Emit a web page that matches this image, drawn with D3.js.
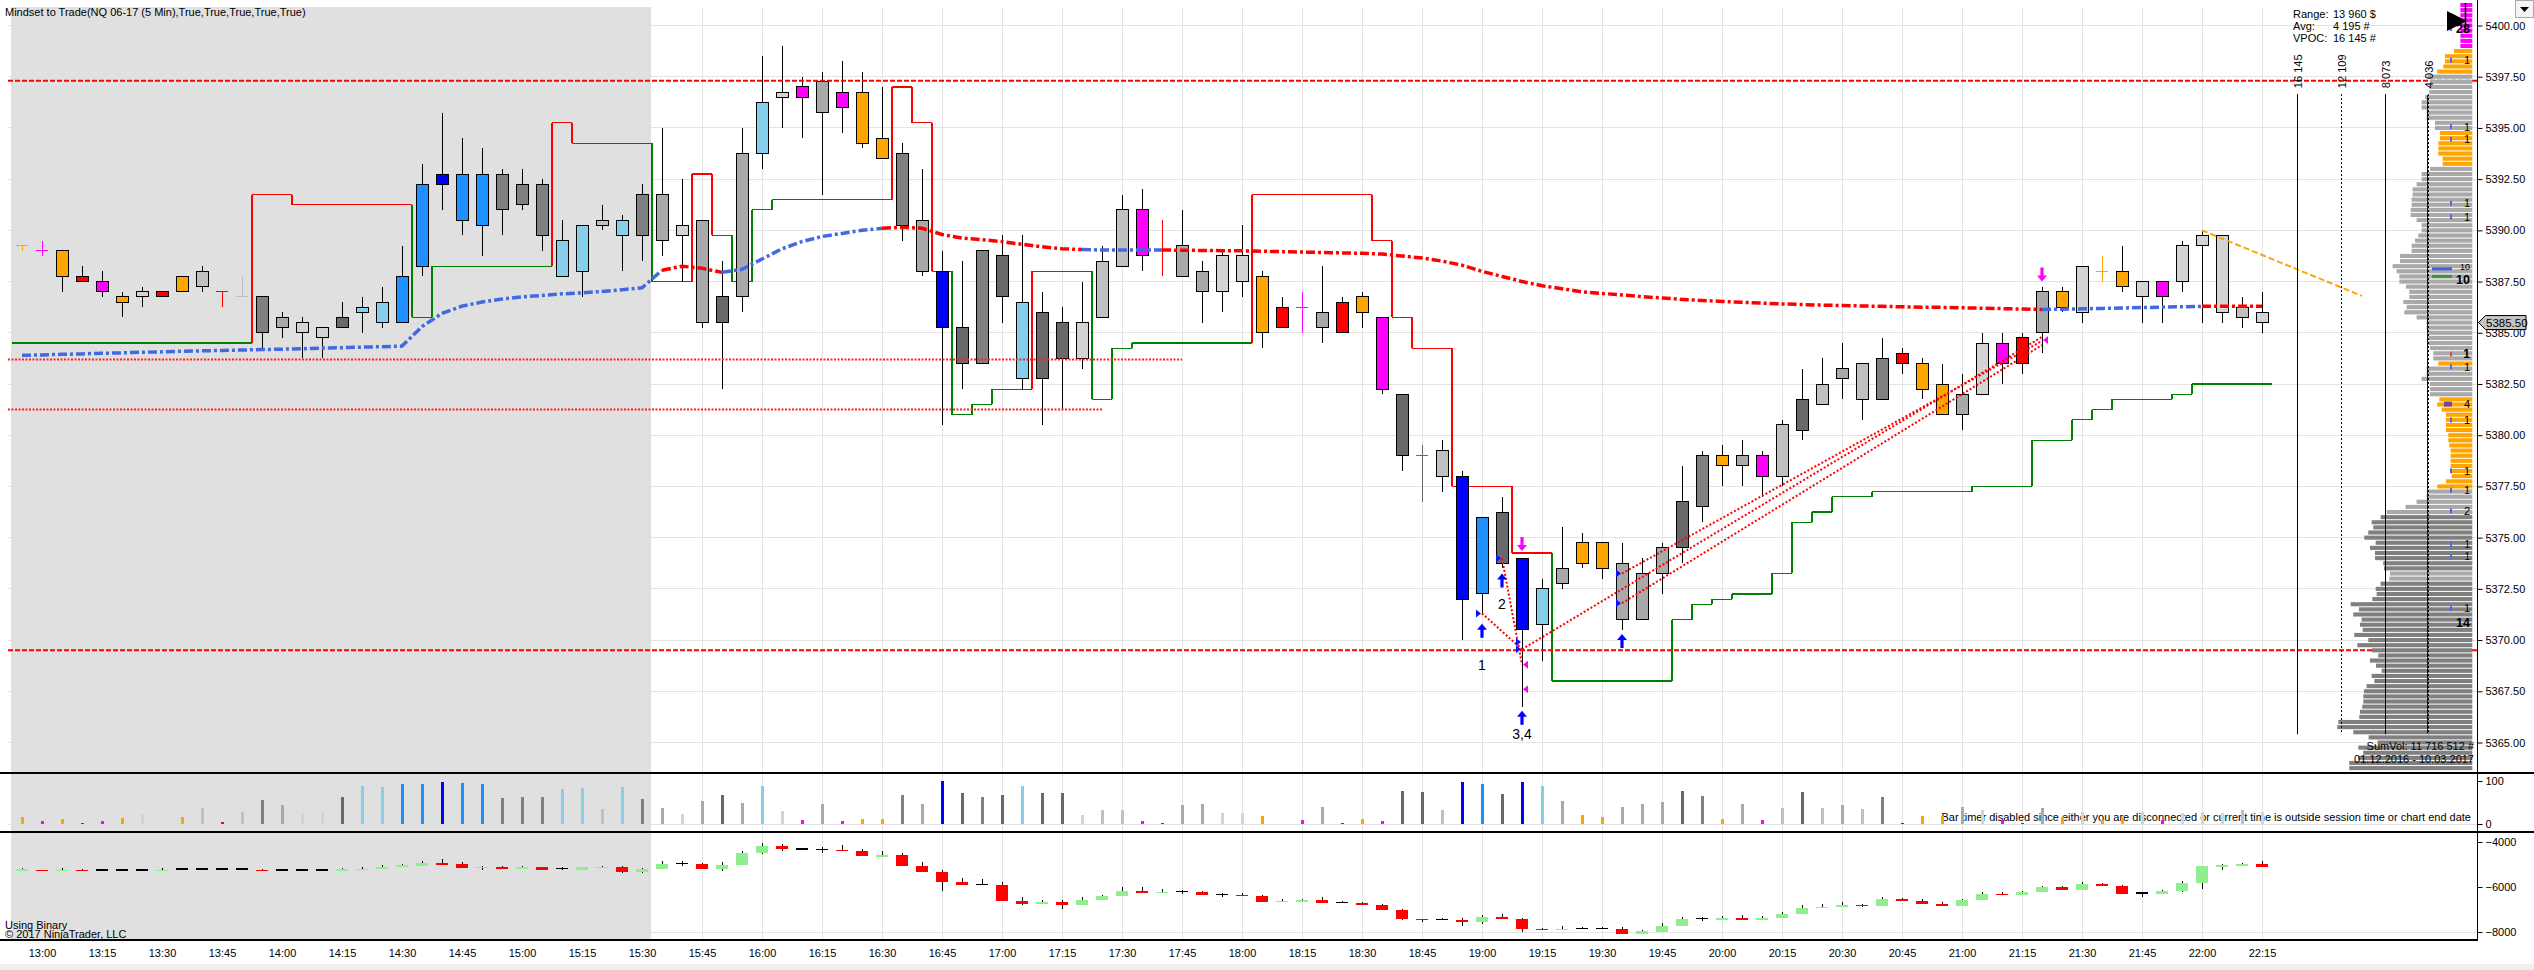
<!DOCTYPE html>
<html>
<head>
<meta charset="utf-8">
<title>Mindset to Trade NQ 06-17 5 Min</title>
<script src="https://cdn.jsdelivr.net/npm/d3@7"></script>
<style>
  html, body { margin: 0; padding: 0; background: #fff; }
  svg { display: block; }
</style>
</head>
<body>
<svg id="chart"></svg>
<script>
// ---------- data ----------
var timeLabels = ["13:00","13:15","13:30","13:45","14:00","14:15","14:30","14:45","15:00","15:15",
  "15:30","15:45","16:00","16:15","16:30","16:45","17:00","17:15","17:30","17:45","18:00","18:15",
  "18:30","18:45","19:00","19:15","19:30","19:45","20:00","20:15","20:30","20:45","21:00","21:15",
  "21:30","21:45","22:00","22:15"];
var priceTicks = [5365, 5367.5, 5370, 5372.5, 5375, 5377.5, 5380, 5382.5, 5385, 5387.5, 5390, 5392.5, 5395, 5397.5, 5400];

// 5 min bars, 12:55 .. 22:15
var open = [5389.25,5389.0,5389.0,5387.75,5387.5,5386.75,5386.75,5387.0,5387.0,5388.0,
  5387.0,5386.75,5386.75,5385.25,5385.5,5385.25,5385.25,5386.0,5385.5,5385.5,
  5388.25,5392.75,5392.75,5390.25,5392.75,5391.25,5392.25,5389.5,5388.0,5390.25,
  5390.5,5389.75,5389.5,5390.25,5390.5,5385.5,5386.75,5393.75,5396.75,5396.5,
  5397.25,5396.0,5396.75,5394.5,5393.75,5390.5,5388.0,5385.25,5383.5,5388.75,
  5386.5,5382.75,5385.5,5383.75,5385.75,5388.25,5391.0,5389.0,5387.75,5388.0,
  5387.0,5388.75,5387.75,5385.25,5386.25,5386.0,5386.5,5386.0,5385.75,5382.0,
  5379.0,5378.0,5378.0,5372.25,5376.25,5374.0,5370.75,5372.75,5373.75,5374.75,
  5373.75,5371.0,5373.25,5374.5,5376.5,5379.0,5378.5,5379.0,5378.0,5380.25,
  5381.5,5382.75,5383.5,5381.75,5384.0,5383.5,5382.5,5381.0,5382.0,5384.5,
  5383.5,5385.0,5387.0,5386.0,5388.0,5388.0,5387.5,5386.75,5387.5,5389.25,
  5389.75,5386.25,5386.0];
var high = [5389.25,5389.5,5389.0,5388.25,5388.0,5387.0,5387.25,5387.0,5387.75,5388.25,
  5387.0,5387.75,5386.75,5386.0,5385.75,5385.25,5386.5,5386.75,5387.25,5389.25,
  5393.25,5395.75,5394.5,5394.0,5393.0,5393.0,5392.5,5390.5,5390.25,5391.25,
  5390.75,5392.25,5395.0,5392.5,5390.5,5388.5,5395.0,5398.5,5399.0,5397.5,
  5397.75,5398.25,5397.75,5397.0,5394.25,5393.0,5389.0,5388.5,5389.0,5389.75,
  5389.75,5387.0,5386.25,5387.5,5389.25,5391.75,5392.0,5390.5,5391.0,5388.5,
  5389.0,5390.25,5388.0,5386.75,5387.0,5388.25,5386.75,5387.0,5385.75,5382.0,
  5379.5,5379.75,5378.25,5376.0,5377.0,5374.0,5373.0,5375.5,5375.25,5374.75,
  5374.75,5374.0,5374.75,5378.5,5379.25,5379.5,5379.75,5379.25,5380.75,5383.25,
  5383.75,5384.5,5383.5,5384.75,5384.25,5383.75,5383.5,5383.0,5385.0,5385.0,
  5385.0,5387.25,5387.25,5388.25,5388.75,5389.25,5387.5,5387.5,5389.5,5390.0,
  5389.75,5386.75,5387.0];
var low = [5389.0,5388.75,5387.0,5387.5,5386.75,5385.75,5386.25,5386.75,5387.0,5387.0,
  5386.25,5386.75,5384.25,5384.75,5383.75,5383.75,5385.25,5385.0,5385.25,5385.5,
  5387.75,5391.0,5389.75,5388.75,5389.75,5391.0,5389.0,5387.75,5386.75,5390.0,
  5388.0,5388.5,5388.75,5387.5,5385.25,5382.25,5386.0,5393.0,5395.0,5394.5,
  5391.75,5394.75,5394.0,5393.5,5389.5,5387.75,5380.5,5382.25,5383.5,5385.5,
  5382.25,5380.5,5381.25,5383.25,5385.75,5388.25,5388.0,5387.75,5387.75,5385.5,
  5386.0,5386.75,5384.25,5385.25,5385.0,5384.5,5385.0,5385.25,5382.0,5378.25,
  5376.75,5377.25,5370.0,5371.25,5373.5,5366.75,5369.0,5372.5,5373.5,5373.0,
  5370.5,5371.0,5372.25,5373.75,5375.75,5377.5,5377.5,5377.0,5377.5,5379.75,
  5381.5,5381.75,5380.75,5381.75,5383.0,5381.75,5381.0,5380.25,5382.0,5382.5,
  5383.0,5384.0,5386.0,5385.5,5387.5,5387.0,5385.5,5385.5,5387.0,5385.5,
  5385.5,5385.25,5385.0];
var close = [5389.25,5389.0,5387.75,5387.5,5387.0,5386.5,5387.0,5386.75,5387.75,5387.25,
  5387.0,5386.75,5385.0,5385.75,5385.0,5384.75,5385.75,5386.25,5386.5,5387.75,
  5392.25,5392.25,5390.5,5392.75,5391.0,5392.25,5389.75,5387.75,5390.25,5390.5,
  5389.75,5391.75,5391.75,5389.75,5385.5,5386.75,5393.75,5396.25,5396.5,5397.0,
  5395.75,5396.75,5394.25,5393.5,5390.25,5388.0,5385.25,5383.5,5389.0,5386.75,
  5382.75,5386.0,5383.75,5385.5,5388.5,5391.0,5388.75,5389.0,5389.25,5387.0,
  5388.75,5387.5,5385.0,5386.25,5386.25,5385.25,5385.0,5386.75,5382.25,5379.0,
  5379.0,5379.25,5372.0,5376.0,5373.75,5370.5,5372.5,5373.5,5374.75,5373.5,
  5371.0,5373.25,5374.5,5376.75,5379.0,5378.5,5379.0,5378.0,5380.5,5381.75,
  5382.5,5383.25,5381.75,5383.75,5383.5,5382.25,5381.0,5382.0,5384.5,5383.5,
  5384.75,5387.0,5386.25,5388.25,5388.0,5387.25,5386.75,5387.5,5389.25,5389.75,
  5386.0,5385.75,5385.5];
// volume class of each bar (o orange, m magenta, r red, L/S/A/G/D greys light->dark, k/d/b blues)
var barClass = "omormoLroS" + "rSGALLDkkd" + "dbddGGGkkS" + "kGALADAkLm" + "AmooGAbDGD" +
  "kDDLSSmrAA" + "LLormAromD" + "DSbdDbkAoo" + "AAADGoAmSD" + "SASGrooALm" + "rAoLooLmLLLSL";
// relative volume (0..100)
var volume = [16,7,12,2,7,14,23,0,16,37, 5,28,56,44,26,28,63,88,86,93,
  93,98,95,93,61,63,63,81,84,35, 86,58,37,23,53,67,49,88,30,9,
  47,7,12,12,67,47,100,72,63,67, 88,72,72,21,33,33,7,2,44,47,
  26,26,19,0,9,40,2,12,7,77, 74,33,98,93,70,98,88,53,21,16,
  40,47,51,77,65,12,47,9,37,74, 37,44,35,63,2,19,19,40,33,9,
  2,37,16,28,9,16,28,9,26,28, 26,33,28];
// cumulative delta candles (lower panel)
var dOpen = [-5270,-5230,-5275,-5230,-5245,-5245,-5245,-5275,-5200,-5200,
  -5200,-5200,-5230,-5245,-5245,-5245,-5275,-5245,-5200,-5110,
  -5065,-4935,-4980,-5140,-5095,-5185,-5125,-5185,-5230,-5140,
  -5110,-5320,-5185,-4950,-4980,-5185,-5005,-4490,-4180,-4310,
  -4325,-4340,-4385,-4605,-4580,-5065,-5335,-5780,-5880,-5910,
  -6620,-6740,-6665,-6785,-6565,-6400,-6180,-6265,-6190,-6210,
  -6325,-6355,-6385,-6650,-6625,-6580,-6680,-6710,-6815,-7020,
  -7420,-7435,-7450,-7555,-7320,-7420,-7865,-7910,-7835,-7835,
  -7865,-8090,-8000,-7735,-7410,-7420,-7380,-7420,-7380,-7200,
  -6920,-6890,-6785,-6845,-6520,-6610,-6740,-6845,-6580,-6300,
  -6355,-6220,-5985,-6135,-5850,-5955,-6265,-6310,-6180,-5805,
  -5095,-5020,-4980];
var dHigh = [-5170,-5230,-5170,-5185,-5245,-5185,-5185,-5170,-5200,-5200,
  -5200,-5200,-5185,-5185,-5245,-5245,-5155,-5125,-5020,-4990,
  -4845,-4740,-4890,-5065,-5065,-5065,-5095,-5110,-5095,-5065,
  -5065,-5140,-4845,-4845,-4935,-4890,-4385,-4045,-4090,-4265,
  -4205,-4150,-4310,-4400,-4505,-4890,-5245,-5600,-5645,-5780,
  -6445,-6595,-6580,-6445,-6355,-6000,-6000,-6105,-6120,-6180,
  -6250,-6250,-6355,-6550,-6535,-6445,-6620,-6665,-6755,-6965,
  -7420,-7390,-7390,-7260,-7215,-7380,-7805,-7750,-7790,-7790,
  -7790,-7910,-7600,-7320,-7335,-7305,-7245,-7305,-7125,-6800,
  -6755,-6650,-6755,-6445,-6475,-6550,-6650,-6520,-6210,-6235,
  -6165,-5940,-5940,-5790,-5805,-5910,-6250,-6120,-5720,-5080,
  -4980,-4935,-4830];
var dLow = [-5270,-5290,-5275,-5290,-5245,-5260,-5290,-5275,-5200,-5200,
  -5200,-5200,-5290,-5290,-5245,-5245,-5275,-5245,-5200,-5110,
  -5065,-4980,-5155,-5245,-5200,-5185,-5230,-5260,-5230,-5140,
  -5365,-5365,-5185,-5065,-5185,-5275,-5005,-4520,-4385,-4370,
  -4505,-4370,-4605,-4605,-5065,-5320,-6165,-5895,-5880,-6610,
  -6800,-6740,-6965,-6785,-6565,-6400,-6265,-6265,-6325,-6355,
  -6430,-6400,-6650,-6650,-6625,-6710,-6700,-6785,-7005,-7450,
  -7540,-7480,-7720,-7630,-7420,-7985,-7910,-7910,-7835,-7835,
  -8090,-8090,-8000,-7735,-7525,-7420,-7420,-7420,-7380,-7200,
  -6920,-6890,-6890,-6845,-6610,-6755,-6845,-6845,-6580,-6355,
  -6355,-6220,-6135,-6135,-5955,-6310,-6445,-6310,-6220,-6075,
  -5245,-5020,-5095];
var dClose = [-5215,-5290,-5230,-5290,-5245,-5245,-5245,-5230,-5200,-5200,
  -5200,-5200,-5290,-5245,-5245,-5245,-5215,-5185,-5095,-5035,
  -4920,-4980,-5155,-5095,-5200,-5125,-5230,-5185,-5125,-5095,
  -5320,-5200,-4980,-4950,-5185,-5020,-4475,-4180,-4325,-4310,
  -4325,-4370,-4605,-4580,-5065,-5320,-5765,-5895,-5880,-6610,
  -6755,-6680,-6785,-6580,-6385,-6180,-6265,-6220,-6190,-6355,
  -6325,-6400,-6650,-6610,-6580,-6710,-6680,-6785,-7005,-7405,
  -7450,-7435,-7555,-7320,-7420,-7865,-7910,-7865,-7835,-7835,
  -8090,-7970,-7735,-7420,-7410,-7380,-7420,-7380,-7200,-6920,
  -6875,-6785,-6845,-6535,-6610,-6755,-6845,-6565,-6300,-6355,
  -6210,-5985,-6135,-5850,-5955,-6310,-6265,-6165,-5805,-5080,
  -5005,-4980,-5095];
// session vwap (dash-dot line), per bar
var vwap = [5383.90,5383.92,5383.95,5383.97,5384.00,5384.02,5384.05,5384.07,5384.10,5384.12,
  5384.14,5384.16,5384.18,5384.20,5384.22,5384.25,5384.27,5384.30,5384.32,5384.35,
  5385.30,5385.95,5386.30,5386.50,5386.65,5386.75,5386.82,5386.90,5386.95,5387.02,
  5387.10,5387.20,5388.05,5388.25,5388.15,5387.95,5388.10,5388.60,5389.10,5389.45,
  5389.70,5389.85,5390.00,5390.10,5390.15,5390.10,5389.80,5389.62,5389.55,5389.45,
  5389.32,5389.20,5389.10,5389.06,5389.04,5389.04,5389.04,5389.04,5389.03,5389.02,
  5389.01,5389.00,5388.98,5388.96,5388.94,5388.92,5388.90,5388.88,5388.84,5388.75,
  5388.65,5388.50,5388.30,5388.00,5387.75,5387.50,5387.30,5387.15,5387.00,5386.92,
  5386.85,5386.76,5386.70,5386.63,5386.58,5386.53,5386.49,5386.45,5386.41,5386.38,
  5386.35,5386.33,5386.31,5386.29,5386.27,5386.25,5386.24,5386.22,5386.20,5386.18,
  5386.16,5386.14,5386.15,5386.17,5386.19,5386.21,5386.23,5386.25,5386.27,5386.29,
  5386.30,5386.30,5386.30];
// [firstBar, lastBar, side]  B = price above, R = below
var vwapRuns = [[0,32,"B"],[33,35,"R"],[36,43,"B"],[44,53,"R"],[54,57,"B"],[58,101,"R"],[102,109,"B"],[110,112,"R"]];
// trailing stop: [firstBar, lastBar, level, side]  S = short (red), L = long (green)
var stopRuns = [[0,11,5384.5,"L"],[12,13,5391.75,"S"],[14,19,5391.25,"S"],[20,20,5385.75,"L"],
  [21,26,5388.25,"L"],[27,27,5395.25,"S"],[28,31,5394.25,"S"],[32,33,5387.5,"L"],[34,34,5392.75,"S"],
  [35,35,5389.75,"S"],[36,36,5387.5,"L"],[37,37,5391.0,"L"],[38,43,5391.5,"L"],[44,44,5397.0,"S"],
  [45,45,5395.25,"S"],[46,46,5388.0,"S"],[47,47,5381.0,"L"],[48,48,5381.5,"L"],[49,50,5382.25,"L"],
  [51,53,5388.0,"S"],[54,54,5381.75,"L"],[55,55,5384.25,"L"],[56,61,5384.5,"L"],[62,67,5391.75,"S"],
  [68,68,5389.5,"S"],[69,69,5385.75,"S"],[70,71,5384.25,"S"],[72,74,5377.5,"S"],[75,76,5374.25,"S"],
  [77,82,5368.0,"L"],[83,83,5371.0,"L"],[84,84,5371.75,"L"],[85,85,5372.0,"L"],[86,87,5372.25,"L"],
  [88,88,5373.25,"L"],[89,89,5375.75,"L"],[90,90,5376.25,"L"],[91,92,5377.0,"L"],[93,97,5377.25,"L"],
  [98,100,5377.5,"L"],[101,102,5379.75,"L"],[103,103,5380.75,"L"],[104,104,5381.25,"L"],
  [105,107,5381.75,"L"],[108,108,5382.0,"L"],[109,112,5382.5,"L"]];
var sessionLastBar = 31;
var dashedLevels = [5397.3, 5369.5];
var dottedLevels = [[5383.7, 58], [5381.25, 54]];       // [price, last bar]
var patternLines = [[73,5371.3,75,5369.55],[74,5374.0,75,5368.8],[75,5369.55,101,5384.8],
  [80,5373.25,101,5384.6],[80,5371.8,101,5384.4]];
var trendLine = [109, 5390.0, 117, 5386.8];
var upArrows = [[73,5370.8],[74,5373.25],[75,5366.55],[80,5370.3]];   // tip price
var downArrows = [[75,5374.35],[101,5387.5]];
var buyTriangles = [[73,5371.3],[74,5374.0],[75,5369.9],[75,5369.55],[80,5373.25],[80,5371.8]];
var sellTriangles = [[75,5368.8],[75,5367.6],[101,5384.65]];
var swingLabels = [[73,5368.8,"1"],[74,5371.75,"2"],[75,5365.4,"3,4"]];

// volume profile, 0.25 rows from 5401.00 down
var profileTop = 5401, profileStep = 0.25;
var profVol = [1100,1100,1100,1100,1100,1100,1100,1100,1100,1690,
  2520,2520,2670,3225,4115,3900,3960,3960,4330,4670,
  4670,4210,4210,3440,3440,2980,2980,3130,3130,3130,
  2730,2730,3900,4670,4670,5130,5500,5500,5590,5590,
  5680,5680,5130,4670,4670,4975,5280,5590,5590,6660,
  6660,7340,6970,6720,6720,6110,5800,5800,6355,6050,
  6265,5130,4210,4210,4050,4050,4050,3900,3590,3590,
  3130,4210,4210,4670,3900,3900,3900,3040,3225,2830,
  2425,2425,2425,2425,2210,2210,2120,2000,2000,2000,
  2000,1905,1905,2425,3225,4050,4210,5130,6140,7890,
  8445,9270,9120,9580,9950,8900,9425,8965,8965,8200,
  8135,7585,7645,8445,8900,8810,9210,11205,10440,10960,
  10195,10345,10100,10870,9580,10590,9270,8660,9425,8870,
  8350,9270,9025,9735,9980,10040,10040,10130,10345,10410,
  12340,12435,10960,9550,8720,10500,10040,10500,11330,11330];
var profClassRuns = [["m",9],["o",5],["a",11],["o",7],["a",38],["o",1],["a",6],["o",18],["a",5],["g",11],["a",2],["g",37]];
// [price, text, bold, mark, size]
var profLabels = [[5399.86,"28",1,"b",12.5],[5398.3,"1",0,"b",11],[5395.06,"1",0,"b",11],[5394.45,"1",0,"b",11],
  [5391.32,"1",0,"b",11],[5390.66,"1",0,"b",11],[5388.22,"10",0,"",9],[5387.6,"10",1,"",12.5],[5383.96,"1",1,"r",12],
  [5383.34,"1",0,"b",11],[5381.52,"4",0,"p",11],[5380.74,"1",0,"b",11],[5378.26,"1",0,"b",11],[5377.32,"1",0,"b",11],
  [5376.3,"2",0,"b",11],[5374.68,"1",0,"b",10],[5374.1,"1",0,"b",10],[5371.54,"1",0,"b",11],[5370.84,"14",1,"",12.5]];
var pocMarks = [[5388.12,"b"],[5387.75,"g"]];
var volumeScaleMarks = [[16145,"16 145",0],[12109,"12 109",1],[8073,"8 073",0],[4036,"4 036",1]];
var avgVolume = 4195;
var infoLines = [["Range:","13 960 $"],["Avg:","4 195 #"],["VPOC:","16 145 #"]];
var sumVolText = "SumVol: 11 716 512 #", dateRangeText = "01.12.2016 - 10.03.2017";

// ---------- drawing ----------
var FONT = '"Liberation Sans", Arial, sans-serif';
var W = 2534, H = 970;
var axisX = 2477.5, plotL = 8, mainTop = 7, mainBot = 773, volBot = 832, deltaBot = 940;

var svg = d3.select('#chart').attr('width', W).attr('height', H)
  .attr('font-family', FONT);

var x = d3.scaleLinear().domain([0, 112]).range([22, 2262]);
var y = d3.scaleLinear().domain([5365, 5400]).range([742.5, 25.5]);
var yVol = d3.scaleLinear().domain([0, 100]).range([824, 781]);
var yDelta = d3.scaleLinear().domain([-8000, -4000]).range([932, 842]);
var xProf = d3.scaleLinear().domain([0, 16145]).range([2472.3, 2297]);

var colorMap = {o:'#ffa500', m:'#ff00ff', r:'#ff0000', L:'#d3d3d3', S:'#c0c0c0', A:'#a9a9a9',
  G:'#808080', D:'#696969', k:'#87ceeb', d:'#1e90ff', b:'#0000ff'};
var profColors = {m:'#ff00ff', o:'#ffa500', a:'#a9a9a9', g:'#808080'};

svg.append('rect').attr('width', W).attr('height', H).attr('fill', '#fff');

var defs = svg.append('defs');
defs.append('clipPath').attr('id', 'mainClip').append('rect')
  .attr('x', plotL).attr('y', 2).attr('width', axisX - plotL).attr('height', mainBot - 2);

// grid
var timeIdx = timeLabels.map(function(t, k) { return 1 + 3 * k; });
var grid = svg.append('g').attr('shape-rendering', 'crispEdges').attr('stroke', '#e3e3e3');
grid.selectAll('line.h').data(priceTicks).enter().append('line')
  .attr('x1', plotL).attr('x2', axisX).attr('y1', function(d) { return y(d); }).attr('y2', function(d) { return y(d); });
grid.selectAll('line.v').data(timeIdx).enter().append('line')
  .attr('x1', function(d) { return x(d); }).attr('x2', function(d) { return x(d); })
  .attr('y1', mainTop).attr('y2', deltaBot);
grid.append('line').attr('x1', plotL).attr('x2', axisX).attr('y1', yVol(0)).attr('y2', yVol(0));
grid.append('line').attr('x1', plotL).attr('x2', axisX).attr('y1', yDelta(-8000)).attr('y2', yDelta(-8000));

// non-session shading
svg.append('rect')
  .attr('x', x(0) - 11).attr('y', mainTop)
  .attr('width', x(sessionLastBar) + 9 - (x(0) - 11)).attr('height', deltaBot - mainTop)
  .attr('fill', '#e0e0e0');

var main = svg.append('g').attr('clip-path', 'url(#mainClip)');

// trailing stop line
var stopVal = [], stopSide = [];
stopRuns.forEach(function(r) {
  for (var i = r[0]; i <= r[1]; i++) { stopVal[i] = r[2]; stopSide[i] = r[3]; }
});
var sg = main.append('g').attr('shape-rendering', 'crispEdges').attr('stroke-width', 1.2);
stopVal.forEach(function(v, i) {
  var col = stopSide[i] === 'S' ? '#ff0000' : '#008000';
  sg.append('line').attr('x1', x(i) - 10).attr('x2', x(i) + 10).attr('y1', y(v)).attr('y2', y(v)).attr('stroke', col);
  if (i > 0 && stopVal[i - 1] !== v) {
    sg.append('line').attr('x1', x(i) - 10).attr('x2', x(i) - 10)
      .attr('y1', y(stopVal[i - 1])).attr('y2', y(v)).attr('stroke', col);
  }
});

// candles
var bars = open.map(function(o, i) {
  return {i: i, o: o, h: high[i], l: low[i], c: close[i], k: barClass[i], v: volume[i],
    dO: dOpen[i], dH: dHigh[i], dL: dLow[i], dC: dClose[i]};
});
var cg = main.append('g').attr('shape-rendering', 'crispEdges');
cg.selectAll('line.wick').data(bars).enter().append('line')
  .attr('x1', function(d) { return x(d.i); }).attr('x2', function(d) { return x(d.i); })
  .attr('y1', function(d) { return y(d.h); }).attr('y2', function(d) { return y(d.l); })
  .attr('stroke', function(d) { return d.o === d.c ? colorMap[d.k] : '#000'; });
cg.selectAll('rect.body').data(bars.filter(function(d) { return d.o !== d.c; })).enter().append('rect')
  .attr('x', function(d) { return x(d.i) - 6; })
  .attr('y', function(d) { return y(Math.max(d.o, d.c)); })
  .attr('width', 12)
  .attr('height', function(d) { return Math.abs(y(d.o) - y(d.c)); })
  .attr('fill', function(d) { return colorMap[d.k]; })
  .attr('stroke', '#000');
cg.selectAll('line.doji').data(bars.filter(function(d) { return d.o === d.c; })).enter().append('line')
  .attr('x1', function(d) { return x(d.i) - 6; }).attr('x2', function(d) { return x(d.i) + 6; })
  .attr('y1', function(d) { return y(d.o); }).attr('y2', function(d) { return y(d.o); })
  .attr('stroke', function(d) { return colorMap[d.k]; });

// horizontal levels
main.selectAll('line.dash').data(dashedLevels).enter().append('line')
  .attr('x1', plotL).attr('x2', axisX).attr('y1', function(d) { return y(d); }).attr('y2', function(d) { return y(d); })
  .attr('stroke', '#ff0000').attr('stroke-width', 2).attr('stroke-dasharray', '5,2');
main.selectAll('line.dot').data(dottedLevels).enter().append('line')
  .attr('x1', plotL).attr('x2', function(d) { return x(d[1]); })
  .attr('y1', function(d) { return y(d[0]); }).attr('y2', function(d) { return y(d[0]); })
  .attr('stroke', '#ff2020').attr('stroke-width', 2).attr('stroke-dasharray', '2,1.5');

// vwap
var vline = d3.line().x(function(i) { return x(i); }).y(function(i) { return y(vwap[i]); });
vwapRuns.forEach(function(r) {
  var idx = d3.range(Math.max(0, r[0] - 1), r[1] + 1);
  main.append('path').attr('d', vline(idx)).attr('fill', 'none')
    .attr('stroke', r[2] === 'B' ? '#4169e1' : '#ff0000')
    .attr('stroke-width', 3.5).attr('stroke-dasharray', '9,3,3,3');
});

// pattern lines
main.selectAll('line.pat').data(patternLines).enter().append('line')
  .attr('x1', function(d) { return x(d[0]); }).attr('y1', function(d) { return y(d[1]); })
  .attr('x2', function(d) { return x(d[2]); }).attr('y2', function(d) { return y(d[3]); })
  .attr('stroke', '#ff0000').attr('stroke-width', 2).attr('stroke-dasharray', '2,2');
main.append('line')
  .attr('x1', x(trendLine[0])).attr('y1', y(trendLine[1]))
  .attr('x2', x(trendLine[2])).attr('y2', y(trendLine[3]))
  .attr('stroke', '#ffa500').attr('stroke-width', 2).attr('stroke-dasharray', '6,3');

// markers
function arrowPath(cx, tip, dir) {
  var s = dir; // 1 = up (tip on top), -1 = down
  return 'M' + cx + ',' + tip +
    'L' + (cx + 5) + ',' + (tip + 6 * s) + 'L' + (cx + 1.6) + ',' + (tip + 6 * s) +
    'L' + (cx + 1.6) + ',' + (tip + 14 * s) + 'L' + (cx - 1.6) + ',' + (tip + 14 * s) +
    'L' + (cx - 1.6) + ',' + (tip + 6 * s) + 'L' + (cx - 5) + ',' + (tip + 6 * s) + 'Z';
}
main.selectAll('path.up').data(upArrows).enter().append('path')
  .attr('d', function(d) { return arrowPath(x(d[0]), y(d[1]), 1); }).attr('fill', '#0000ff');
main.selectAll('path.down').data(downArrows).enter().append('path')
  .attr('d', function(d) { return arrowPath(x(d[0]), y(d[1]), -1); }).attr('fill', '#ff00ff');
main.selectAll('path.bt').data(buyTriangles).enter().append('path')
  .attr('d', function(d) { var cx = x(d[0]) - 4, cy = y(d[1]);
    return 'M' + (cx - 2) + ',' + (cy - 4) + 'L' + (cx + 3) + ',' + cy + 'L' + (cx - 2) + ',' + (cy + 4) + 'Z'; })
  .attr('fill', '#1010ff');
main.selectAll('path.st').data(sellTriangles).enter().append('path')
  .attr('d', function(d) { var cx = x(d[0]) + 4, cy = y(d[1]);
    return 'M' + (cx + 2) + ',' + (cy - 4) + 'L' + (cx - 3) + ',' + cy + 'L' + (cx + 2) + ',' + (cy + 4) + 'Z'; })
  .attr('fill', '#ff00ff');
main.selectAll('text.swing').data(swingLabels).enter().append('text')
  .attr('x', function(d) { return x(d[0]); }).attr('y', function(d) { return y(d[1]); })
  .attr('dy', '0.35em').attr('text-anchor', 'middle').attr('font-size', 14).attr('fill', '#000')
  .text(function(d) { return d[2]; });

// volume profile
var profClass = [];
profClassRuns.forEach(function(r) { for (var n = 0; n < r[1]; n++) profClass.push(r[0]); });
var prof = profVol.map(function(v, k) { return {p: profileTop - profileStep * k, v: v, c: profClass[k]}; });
var rowH = y(5400) - y(5400 + profileStep);
main.append('g').selectAll('rect').data(prof).enter().append('rect')
  .attr('x', function(d) { return xProf(d.v); })
  .attr('width', function(d) { return xProf(0) - xProf(d.v); })
  .attr('y', function(d) { return y(d.p + profileStep / 2) + 0.5; })
  .attr('height', rowH - 1)
  .attr('fill', function(d) { return profColors[d.c]; });

var markCol = {b: '#5566ee', r: '#e05050', p: '#6a4aa0'};
main.selectAll('rect.pm').data(profLabels.filter(function(d) { return d[3]; })).enter().append('rect')
  .attr('x', function(d) { return d[3] === 'p' ? 2444 : 2450; })
  .attr('y', function(d) { return y(d[0]) - 2.5; })
  .attr('width', function(d) { return d[3] === 'p' ? 8 : 2; }).attr('height', 5)
  .attr('fill', function(d) { return markCol[d[3]]; });
main.selectAll('rect.poc').data(pocMarks).enter().append('rect')
  .attr('x', 2432).attr('width', 20)
  .attr('y', function(d) { return y(d[0]) - 1.5; }).attr('height', 3)
  .attr('fill', function(d) { return d[1] === 'b' ? '#4060e0' : '#3a9a3a'; });
main.selectAll('text.pl').data(profLabels).enter().append('text')
  .attr('x', 2470).attr('y', function(d) { return y(d[0]); }).attr('dy', '0.35em')
  .attr('text-anchor', 'end').attr('font-size', function(d) { return d[4]; })
  .attr('font-weight', function(d) { return d[2] ? 'bold' : 'normal'; })
  .attr('fill', '#000')
  .text(function(d) { return d[1]; });

// profile scale lines
var lineTop = y(5396.65), lineBot = y(5365.4);
svg.selectAll('line.vs').data(volumeScaleMarks).enter().append('line')
  .attr('x1', function(d) { return Math.round(xProf(d[0])) + 0.5; })
  .attr('x2', function(d) { return Math.round(xProf(d[0])) + 0.5; })
  .attr('y1', lineTop).attr('y2', lineBot)
  .attr('stroke', '#000').attr('stroke-width', 1)
  .attr('stroke-dasharray', function(d) { return d[2] ? '2,2' : null; });
svg.selectAll('text.vs').data(volumeScaleMarks).enter().append('text')
  .attr('transform', function(d) { return 'translate(' + (xProf(d[0]) + 5) + ',' + (lineTop - 6) + ') rotate(-90)'; })
  .attr('font-size', 11).attr('fill', '#000')
  .text(function(d) { return d[1]; });
svg.append('line')
  .attr('x1', Math.round(xProf(avgVolume)) + 0.5).attr('x2', Math.round(xProf(avgVolume)) + 0.5)
  .attr('y1', lineTop + 1).attr('y2', lineBot - 1)
  .attr('stroke', '#0000c0').attr('stroke-width', 1);

// profile header / footer
var info = svg.append('g').attr('font-size', 11).attr('fill', '#000');
infoLines.forEach(function(l, k) {
  info.append('text').attr('x', 2293).attr('y', 18 + k * 12).text(l[0]);
  info.append('text').attr('x', 2333).attr('y', 18 + k * 12).text(l[1]);
});
svg.append('text').attr('x', 2474).attr('y', 750).attr('text-anchor', 'end').attr('font-size', 11).text(sumVolText);
svg.append('text').attr('x', 2474).attr('y', 763).attr('text-anchor', 'end').attr('font-size', 11).text(dateRangeText);

// play icon + dropdown
svg.append('path').attr('d', 'M2447,11L2467,21L2447,31Z').attr('fill', '#000');
svg.append('line').attr('x1', 2465.5).attr('x2', 2465.5).attr('y1', 3).attr('y2', 30).attr('stroke', '#000').attr('stroke-width', 1.5);
svg.append('rect').attr('x', 2515.5).attr('y', 0.5).attr('width', 18).attr('height', 17)
  .attr('fill', '#f4f4f4').attr('stroke', '#a8a8a8');
svg.append('path').attr('d', 'M2520,7L2529,7L2524.5,12Z').attr('fill', '#000');

// volume panel
svg.append('text').attr('x', 2471).attr('y', 821).attr('text-anchor', 'end').attr('font-size', 11)
  .attr('fill', '#000')
  .text('Bar timer disabled since either you are disconnected or current time is outside session time or chart end date');
svg.append('g').attr('shape-rendering', 'crispEdges').selectAll('rect').data(bars).enter().append('rect')
  .attr('x', function(d) { return x(d.i) - 1.5; }).attr('width', 3)
  .attr('y', function(d) { return yVol(d.v); })
  .attr('height', function(d) { return yVol(0) - yVol(d.v); })
  .attr('fill', function(d) { return colorMap[d.k]; });

// cumulative delta panel
var dg = svg.append('g').attr('shape-rendering', 'crispEdges');
dg.selectAll('line.dw').data(bars).enter().append('line')
  .attr('x1', function(d) { return x(d.i); }).attr('x2', function(d) { return x(d.i); })
  .attr('y1', function(d) { return yDelta(d.dH); }).attr('y2', function(d) { return yDelta(d.dL); })
  .attr('stroke', '#000');
dg.selectAll('rect.db').data(bars.filter(function(d) { return d.dO !== d.dC; })).enter().append('rect')
  .attr('x', function(d) { return x(d.i) - 6; }).attr('width', 12)
  .attr('y', function(d) { return yDelta(Math.max(d.dO, d.dC)); })
  .attr('height', function(d) { return Math.max(1.5, Math.abs(yDelta(d.dO) - yDelta(d.dC))); })
  .attr('fill', function(d) { return d.dC > d.dO ? '#90ee90' : '#ff0000'; });
dg.selectAll('line.dd').data(bars.filter(function(d) { return d.dO === d.dC; })).enter().append('line')
  .attr('x1', function(d) { return x(d.i) - 6; }).attr('x2', function(d) { return x(d.i) + 6; })
  .attr('y1', function(d) { return yDelta(d.dO); }).attr('y2', function(d) { return yDelta(d.dO); })
  .attr('stroke', '#000').attr('stroke-width', 1.5);

svg.append('text').attr('x', 5).attr('y', 929).attr('font-size', 11).text('Using Binary');
svg.append('text').attr('x', 5).attr('y', 938).attr('font-size', 11).text('\u00a9 2017 NinjaTrader, LLC');

// frame
var fr = svg.append('g').attr('stroke', '#000').attr('shape-rendering', 'crispEdges');
fr.append('line').attr('x1', 0).attr('x2', W).attr('y1', mainBot).attr('y2', mainBot).attr('stroke-width', 1.5);
fr.append('line').attr('x1', 0).attr('x2', W).attr('y1', volBot).attr('y2', volBot).attr('stroke-width', 1.5);
fr.append('line').attr('x1', 0).attr('x2', axisX).attr('y1', deltaBot).attr('y2', deltaBot).attr('stroke-width', 1.5);
fr.append('line').attr('x1', axisX).attr('x2', axisX).attr('y1', 0).attr('y2', deltaBot).attr('stroke-width', 1.5);

// axes
function styleAxis(g) {
  g.select('.domain').remove();
  g.attr('font-family', FONT).attr('font-size', 11);
  g.selectAll('text').attr('fill', '#000');
  g.selectAll('line').attr('stroke', '#000');
}
svg.append('g').attr('transform', 'translate(' + axisX + ',0)')
  .call(d3.axisRight(y).tickValues(priceTicks).tickSize(5).tickPadding(3).tickFormat(d3.format('.2f')))
  .call(styleAxis);
svg.append('g').attr('transform', 'translate(' + axisX + ',0)')
  .call(d3.axisRight(yVol).tickValues([0, 100]).tickSize(5).tickPadding(3))
  .call(styleAxis);
svg.append('g').attr('transform', 'translate(' + axisX + ',0)')
  .call(d3.axisRight(yDelta).tickValues([-4000, -6000, -8000]).tickSize(5).tickPadding(3).tickFormat(d3.format('d')))
  .call(styleAxis);
svg.append('g').attr('transform', 'translate(0,' + deltaBot + ')')
  .call(d3.axisBottom(x).tickValues(timeIdx).tickSize(0).tickPadding(9)
    .tickFormat(function(d, k) { return timeLabels[k]; }))
  .call(styleAxis);

// last price tag
var lp = y(close[close.length - 1]);
svg.append('path')
  .attr('d', 'M' + (axisX + 1) + ',' + lp + 'L' + (axisX + 8) + ',' + (lp - 7) + 'L2526,' + (lp - 7) +
    'L2526,' + (lp + 7) + 'L' + (axisX + 8) + ',' + (lp + 7) + 'Z')
  .attr('fill', '#c4c4c4').attr('stroke', '#000');
svg.append('text').attr('x', 2486).attr('y', lp + 4).attr('font-size', 11.5).attr('fill', '#000')
  .text(d3.format('.2f')(close[close.length - 1]));

// title
svg.append('text').attr('x', 5).attr('y', 16).attr('font-size', 11).attr('fill', '#000')
  .text('Mindset to Trade(NQ 06-17 (5 Min),True,True,True,True,True)');

// bottom strip
svg.append('rect').attr('x', 0).attr('y', 964).attr('width', W).attr('height', 6).attr('fill', '#efefef');
</script>
</body>
</html>
